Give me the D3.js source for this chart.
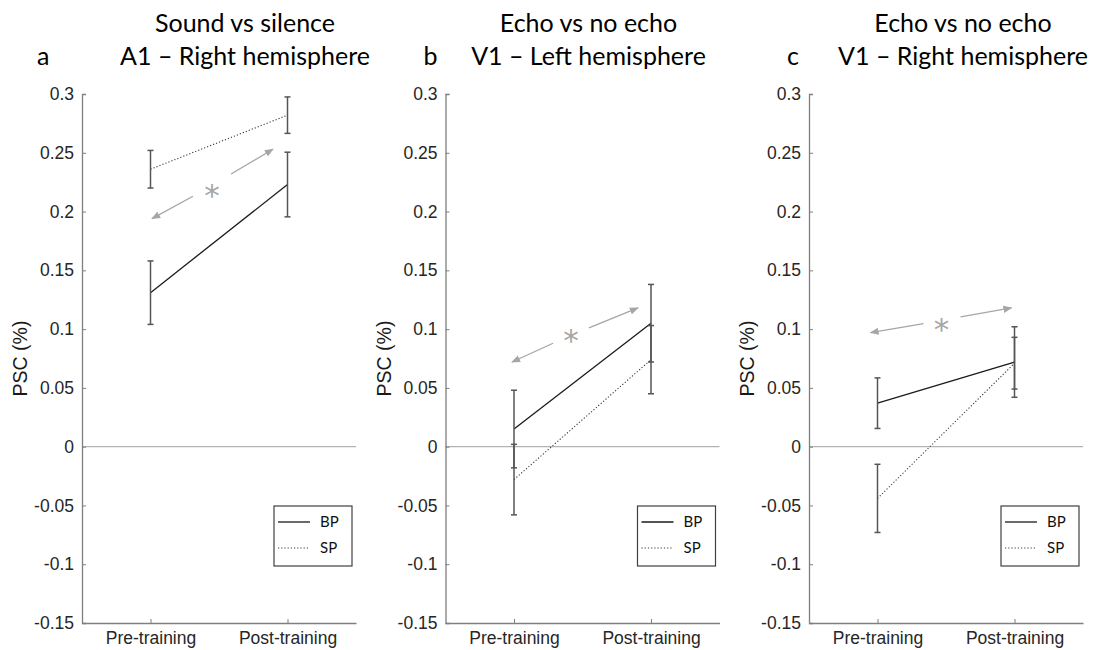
<!DOCTYPE html>
<html><head><meta charset="utf-8">
<script src="https://cdn.jsdelivr.net/npm/d3@7/dist/d3.min.js"></script>
<style>body{margin:0;background:#fff;} svg{display:block;}</style>
</head><body>
<svg id="chart" width="1102" height="650"></svg>
<script>
// ---- data ----
const categories = ["Pre-training", "Post-training"];
const panelLetters = ["a", "b", "c"];
const titleLine1 = ["Sound vs silence", "Echo vs no echo", "Echo vs no echo"];
const titleLine2 = ["A1 \u2013 Right hemisphere", "V1 \u2013 Left hemisphere", "V1 \u2013 Right hemisphere"];
const seriesNames = ["BP", "SP"];
// means [pre, post] per panel
const bpMean = [[0.131, 0.223], [0.015, 0.105], [0.037, 0.072]];
const bpErr  = [[0.027, 0.0275], [0.033, 0.033], [0.0215, 0.030]];
const spMean = [[0.236, 0.282], [-0.028, 0.074], [-0.044, 0.071]];
const spErr  = [[0.016, 0.0155], [0.030, 0.029], [0.029, 0.022]];
const yTickValues = [0.3, 0.25, 0.2, 0.15, 0.1, 0.05, 0, -0.05, -0.1, -0.15];
const yTickLabels = ["0.3", "0.25", "0.2", "0.15", "0.1", "0.05", "0", "-0.05", "-0.1", "-0.15"];
const yLabel = "PSC (%)";
// significance arrows (x in category units 1..2, y in PSC)
const arrowLeft  = [[[1.31, 0.213], [1.011, 0.194]], [[1.285, 0.088], [0.985, 0.072]], [[1.336, 0.1046], [0.949, 0.097]]];
const arrowRight = [[[1.588, 0.232], [1.894, 0.253]], [[1.547, 0.101], [1.905, 0.118]], [[1.606, 0.1105], [1.978, 0.118]]];
const starPos    = [[1.449, 0.219], [1.416, 0.096], [1.467, 0.105]];

// ---- layout ----
const svg = d3.select("#chart");
const panelW = 274, plotTop = 94, plotBottom = 623, step = 363.5, firstLeft = 82;
const axisColor = "#7f7f7f";
const sansFont = "Liberation Sans, Arial, sans-serif";

svg.append("defs").append("marker")
  .attr("id", "ah").attr("viewBox", "0 0 10 10").attr("refX", 9).attr("refY", 5)
  .attr("markerWidth", 9).attr("markerHeight", 8).attr("markerUnits", "userSpaceOnUse")
  .attr("orient", "auto").attr("preserveAspectRatio", "none")
  .append("path").attr("d", "M0,0.5 L10,5 L0,9.5 Z").attr("fill", "#a6a6a6");

for (let p = 0; p < 3; p++) {
  const left = firstLeft + p * step;
  const x = d3.scaleLinear().domain([0.5, 2.5]).range([left, left + panelW]);
  const y = d3.scaleLinear().domain([-0.15, 0.3]).range([plotBottom, plotTop]);
  const g = svg.append("g");

  // zero line
  g.append("line").attr("x1", x(0.5)).attr("x2", x(2.5)).attr("y1", y(0)).attr("y2", y(0))
    .attr("stroke", "#b3b3b3").attr("stroke-width", 1.3);

  // y axis
  const yAxis = d3.axisLeft(y).tickValues(yTickValues)
    .tickFormat((d, i) => yTickLabels[i]).tickSizeInner(-4).tickSizeOuter(-4).tickPadding(8);
  const ya = g.append("g").attr("transform", `translate(${left},0)`).call(yAxis);
  ya.select(".domain").attr("stroke", axisColor).attr("stroke-width", 1.3);
  ya.selectAll(".tick line").attr("stroke", axisColor);
  ya.selectAll(".tick text").attr("font-family", sansFont)
    .attr("font-size", 17.5).attr("fill", "#262626");

  // x axis
  const xAxis = d3.axisBottom(x).tickValues([1, 2]).tickFormat((d) => categories[d - 1])
    .tickSizeInner(-4).tickSizeOuter(0).tickPadding(9);
  const xa = g.append("g").attr("transform", `translate(0,${plotBottom})`).call(xAxis);
  xa.select(".domain").attr("stroke", axisColor).attr("stroke-width", 1.3);
  xa.selectAll(".tick line").attr("stroke", axisColor);
  xa.selectAll(".tick text").attr("font-family", sansFont)
    .attr("font-size", 17.5).attr("fill", "#262626");

  // y label
  g.append("text").attr("transform", `translate(${left - 55},${(plotTop + plotBottom) / 2}) rotate(-90)`)
    .attr("text-anchor", "middle").attr("font-family", sansFont)
    .attr("font-size", 19.5).attr("fill", "#1a1a1a").text(yLabel);

  // titles
  const tc = left + [163, 143, 154][p];
  g.append("text").attr("x", tc).attr("y", 32).attr("text-anchor", "middle")
    .attr("font-family", "Lato, sans-serif").attr("font-size", 25).attr("fill", "#000").text(titleLine1[p]);
  g.append("text").attr("x", tc).attr("y", 65).attr("text-anchor", "middle")
    .attr("font-family", "Lato, sans-serif").attr("font-size", 25).attr("fill", "#000").text(titleLine2[p]);
  g.append("text").attr("x", left - 45 + (p > 0 ? 23 : 0)).attr("y", 65)
    .attr("font-family", "Lato, sans-serif").attr("font-size", 25).attr("fill", "#000").text(panelLetters[p]);

  // series
  const series = [
    { mean: bpMean[p], err: bpErr[p], stroke: "#1a1a1a", dash: null, w: 1.3 },
    { mean: spMean[p], err: spErr[p], stroke: "#3a3a3a", dash: "1.2,2", w: 1.1 }
  ];
  const line = d3.line().x((d, i) => x(i + 1)).y((d) => y(d));
  series.forEach((s) => {
    g.append("path").datum(s.mean).attr("d", line).attr("fill", "none")
      .attr("stroke", s.stroke).attr("stroke-width", s.w).attr("stroke-dasharray", s.dash);
    s.mean.forEach((m, i) => {
      const cx = x(i + 1), lo = y(m - s.err[i]), hi = y(m + s.err[i]);
      const eb = g.append("g").attr("stroke", "#555").attr("stroke-width", 1.5);
      eb.append("line").attr("x1", cx).attr("x2", cx).attr("y1", lo).attr("y2", hi);
      eb.append("line").attr("x1", cx - 3).attr("x2", cx + 3).attr("y1", lo).attr("y2", lo);
      eb.append("line").attr("x1", cx - 3).attr("x2", cx + 3).attr("y1", hi).attr("y2", hi);
    });
  });

  // arrows
  [arrowLeft[p], arrowRight[p]].forEach((a) => {
    g.append("line").attr("x1", x(a[0][0])).attr("y1", y(a[0][1]))
      .attr("x2", x(a[1][0])).attr("y2", y(a[1][1]))
      .attr("stroke", "#a6a6a6").attr("stroke-width", 1.3).attr("marker-end", "url(#ah)");
  });
  g.append("text").attr("x", x(starPos[p][0])).attr("y", y(starPos[p][1]) + 17)
    .attr("text-anchor", "middle").attr("font-family", "DejaVu Sans, sans-serif")
    .attr("font-size", 31).attr("fill", "#a6a6a6").text("*");

  // legend
  const lg = g.append("g").attr("transform", `translate(${left + 192},506)`);
  lg.append("rect").attr("width", 78).attr("height", 60).attr("fill", "#fff")
    .attr("stroke", "#404040").attr("stroke-width", 1.2);
  seriesNames.forEach((n, i) => {
    const yy = 16 + i * 26;
    lg.append("line").attr("x1", 4).attr("x2", 36).attr("y1", yy).attr("y2", yy)
      .attr("stroke", series[i].stroke).attr("stroke-width", series[i].w)
      .attr("stroke-dasharray", series[i].dash);
    lg.append("text").attr("x", 46).attr("y", yy + 5).attr("font-family", "Lato, sans-serif")
      .attr("font-size", 15).attr("fill", "#111").text(n);
  });
}
</script>
</body></html>
